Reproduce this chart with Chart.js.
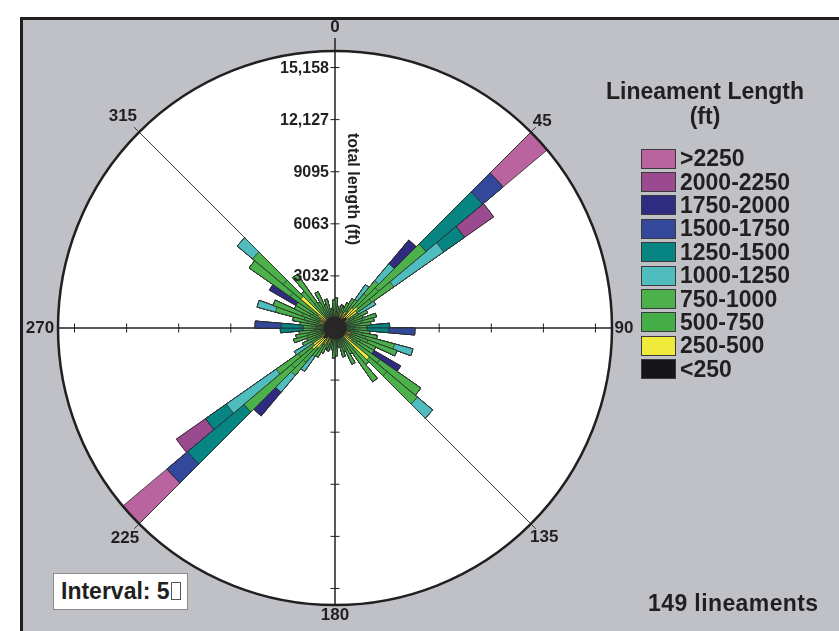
<!DOCTYPE html>
<html>
<head>
<meta charset="utf-8">
<script src="https://cdn.jsdelivr.net/npm/chart.js@4.4.1/dist/chart.umd.min.js"></script>
<style>
  html, body { margin: 0; padding: 0; width: 839px; height: 631px; overflow: hidden; background: #fff;
    font-family: "Liberation Sans", Arial, sans-serif; color: #231f20; }
  #panel { position: absolute; left: 20px; top: 17px; right: 0; bottom: 0; background: #c0c1c6;
    border-left: 3px solid #231f20; border-top: 3px solid #231f20; }
  #rose { position: absolute; left: 0; top: 0; }
  #legendTitle { position: absolute; left: 598px; top: 79px; width: 214px; text-align: center;
    font-weight: bold; font-size: 23px; line-height: 25px; }
  #legendItems { position: absolute; left: 641px; top: 147px; }
  .item { display: flex; align-items: center; height: 23.4px; font-weight: bold; font-size: 23px; }
  .sw { width: 33px; height: 18px; border: 1px solid #3a3a3a; margin-right: 4px; }
  #interval { position: absolute; left: 53px; top: 573px; width: 126px; height: 35px; background: #fff;
    border: 1px solid #8c8c8c; font-weight: bold; font-size: 23px; line-height: 35px; padding-left: 7px; box-sizing: content-box; }
  #interval .deg { display: inline-block; width: 8px; height: 16px; border: 1px solid #555; vertical-align: -1px; margin-left: 1px; }
  #count { position: absolute; left: 648px; top: 590px; font-weight: bold; font-size: 23px; line-height: 26px; letter-spacing: 0.4px; }
</style>
</head>
<body>
<div id="panel"></div>
<canvas id="rose" width="839" height="631"></canvas>
<div id="legendTitle">Lineament Length<br>(ft)</div>
<div id="legendItems"></div>
<div id="interval">Interval: 5<span class="deg"></span></div>
<div id="count">149 lineaments</div>

<script>
// Rose diagram of lineament strikes: total length (ft) per 5-degree bin, split by length class.
const BIN_DEG = 5;

// Length classes, innermost to outermost in each petal
const classNames = ['<250', '250-500', '500-750', '750-1000', '1000-1250',
                    '1250-1500', '1500-1750', '1750-2000', '2000-2250', '>2250'];
const classColors = ['#151416', '#efe93a', '#45ad48', '#4cb14a', '#4fbcbd',
                     '#078582', '#33489a', '#2d2c80', '#9b4a8f', '#b9649f'];

// Total length (ft) in each class for the bins 0-5 ... 175-180 degrees
const lenLt250   = [640,640,640,640,640,640,640,460,760,870,810,640,640,640,640,640,640,640,
                    640,640,640,640,640,640,640,640,640,640,640,640,640,640,640,640,640,640];
const len250     = [0,0,0,0,350,0,460,350,750,870,750,290,0,0,0,0,0,0,
                    0,0,0,350,290,0,350,580,1970,0,0,0,0,0,0,0,0,0];
const len500     = [1100,630,460,750,280,980,0,410,1100,1570,1040,640,580,1100,1040,920,520,460,
                    400,520,980,860,1100,980,520,1970,1330,920,1210,1100,750,810,1100,520,400,980];
const len750     = [0,0,0,0,0,0,860,810,990,3600,1570,0,870,0,810,750,930,750,
                    810,870,870,1740,1800,990,1100,2900,2320,1220,1970,0,930,0,0,0,0,0];
const len1000    = [0,0,0,0,0,0,0,1050,1280,0,3540,1160,0,0,0,0,0,0,
                    0,0,0,1100,0,0,0,0,1160,0,0,0,0,0,0,0,0,0];
const len1250    = [0,0,0,0,0,0,0,0,0,4290,1480,0,0,0,0,0,0,1330,
                    1280,0,0,0,0,0,0,0,0,0,0,0,0,0,0,0,0,0];
const len1500    = [0,0,0,0,0,0,0,0,0,1560,0,0,0,0,0,0,0,0,
                    1520,0,0,0,0,0,0,0,0,0,0,0,0,0,0,0,0,0];
const len1750    = [0,0,0,0,0,0,0,0,1800,0,0,0,0,0,0,0,0,0,
                    0,0,0,0,0,0,1800,0,0,0,0,0,0,0,0,0,0,0];
const len2000    = [0,0,0,0,0,0,0,0,0,0,2080,0,0,0,0,0,0,0,
                    0,0,0,0,0,0,0,0,0,0,0,0,0,0,0,0,0,0];
const lenGt2250  = [0,0,0,0,0,0,0,0,0,3360,0,0,0,0,0,0,0,0,
                    0,0,0,0,0,0,0,0,0,0,0,0,0,0,0,0,0,0];

// Radial axis ticks
const tickValues = [3032, 6063, 9095, 12127, 15158];
const tickLabels = ['3032', '6063', '9095', '12,127', '15,158'];

// Compass labels around the rim
const bearingLabels = [0, 45, 90, 135, 180, 225, 270, 315];

const classSeries = [lenLt250, len250, len500, len750, len1000, len1250, len1500, len1750, len2000, lenGt2250];
const halfBins = lenLt250.length;

// Strikes are axial: every bin also plots at the opposite bearing
const binLabels = [];
for (let a = 0; a < 360; a += BIN_DEG) binLabels.push(a + '-' + (a + BIN_DEG));

// Stacked petals: dataset k holds the running total up to class k (drawn on top of larger totals)
const datasets = classSeries.map((_, k) => ({
  label: classNames[k],
  data: binLabels.map((_, i) => {
    const b = i % halfBins;
    let sum = 0;
    for (let j = 0; j <= k; j++) sum += classSeries[j][b];
    return sum;
  }),
  backgroundColor: classColors[k],
  borderColor: '#2b2b2b',
  borderWidth: 0.8
}));
const maxTotal = Math.max(...datasets[datasets.length - 1].data);

// Legend (largest class first)
const legendBox = document.getElementById('legendItems');
for (let k = classNames.length - 1; k >= 0; k--) {
  const row = document.createElement('div');
  row.className = 'item';
  const sw = document.createElement('div');
  sw.className = 'sw';
  sw.style.background = classColors[k];
  const tx = document.createElement('span');
  tx.textContent = classNames[k];
  row.appendChild(sw);
  row.appendChild(tx);
  legendBox.appendChild(row);
}

const labelGap = {0: 24, 45: 16, 90: 12, 135: 19, 180: 10, 225: 20, 270: 18, 315: 23};

const roseFrame = {
  id: 'roseFrame',
  beforeDatasetsDraw(chart) {
    const s = chart.scales.r, ctx = chart.ctx;
    const cx = s.xCenter, cy = s.yCenter, R = s.drawingArea;
    const at = (deg, d) => s.getPointPosition(deg / BIN_DEG, d);
    ctx.save();
    ctx.fillStyle = '#ffffff';
    ctx.beginPath();
    ctx.arc(cx, cy, R, 0, Math.PI * 2);
    ctx.fill();

    // diagonal bearings
    ctx.strokeStyle = '#3c3c3c';
    ctx.lineWidth = 1;
    [45, 135, 225, 315].forEach(b => {
      const p = at(b, R + 7);
      ctx.beginPath(); ctx.moveTo(cx, cy); ctx.lineTo(p.x, p.y); ctx.stroke();
    });

    // N-S and E-W axes
    ctx.strokeStyle = '#231f20';
    ctx.lineWidth = 1.5;
    const n = at(0, R + 13), so = at(180, R), w = at(270, R), e = at(90, R);
    ctx.beginPath(); ctx.moveTo(n.x, n.y); ctx.lineTo(so.x, so.y); ctx.stroke();
    ctx.beginPath(); ctx.moveTo(w.x, w.y); ctx.lineTo(e.x, e.y); ctx.stroke();

    // tick marks on all four half-axes
    ctx.lineWidth = 1;
    tickValues.forEach(v => {
      const d = s.getDistanceFromCenterForValue(v);
      [0, 180].forEach(b => {
        const p = at(b, d);
        ctx.beginPath(); ctx.moveTo(p.x - 4.5, p.y); ctx.lineTo(p.x + 4.5, p.y); ctx.stroke();
      });
      [90, 270].forEach(b => {
        const p = at(b, d);
        ctx.beginPath(); ctx.moveTo(p.x, p.y - 4.5); ctx.lineTo(p.x, p.y + 4.5); ctx.stroke();
      });
    });
    ctx.restore();
  },
  afterDatasetsDraw(chart) {
    const s = chart.scales.r, ctx = chart.ctx;
    const cx = s.xCenter, cy = s.yCenter, R = s.drawingArea;
    const at = (deg, d) => s.getPointPosition(deg / BIN_DEG, d);
    ctx.save();
    // rim
    ctx.strokeStyle = '#231f20';
    ctx.lineWidth = 2.5;
    ctx.beginPath();
    ctx.arc(cx, cy, R, 0, Math.PI * 2);
    ctx.stroke();

    ctx.fillStyle = '#231f20';
    // radial tick labels
    ctx.font = 'bold 16px "Liberation Sans", Arial, sans-serif';
    ctx.textAlign = 'right';
    ctx.textBaseline = 'middle';
    tickValues.forEach((v, i) => {
      const p = at(0, s.getDistanceFromCenterForValue(v));
      ctx.fillText(tickLabels[i], p.x - 6, p.y + 1);
    });

    // bearing labels
    ctx.font = 'bold 17px "Liberation Sans", Arial, sans-serif';
    ctx.textAlign = 'center';
    bearingLabels.forEach(b => {
      const p = at(b, R + labelGap[b]);
      ctx.fillText(String(b), p.x, p.y);
    });

    // axis title along the north axis
    ctx.font = 'bold 16px "Liberation Sans", Arial, sans-serif';
    ctx.translate(cx + 17, cy - 139);
    ctx.rotate(Math.PI / 2);
    ctx.fillText('total length (ft)', 0, 0);
    ctx.restore();
  }
};

new Chart(document.getElementById('rose'), {
  type: 'polarArea',
  data: { labels: binLabels, datasets },
  options: {
    responsive: false,
    animation: false,
    events: [],
    layout: { padding: { left: 58, top: 51, right: 227, bottom: 26 } },
    plugins: { legend: { display: false }, tooltip: { enabled: false } },
    scales: {
      r: {
        min: 0,
        max: maxTotal,
        startAngle: 0,
        grid: { display: false },
        angleLines: { display: false },
        ticks: { display: false },
        pointLabels: { display: false }
      }
    }
  },
  plugins: [roseFrame]
});
</script>
</body>
</html>
